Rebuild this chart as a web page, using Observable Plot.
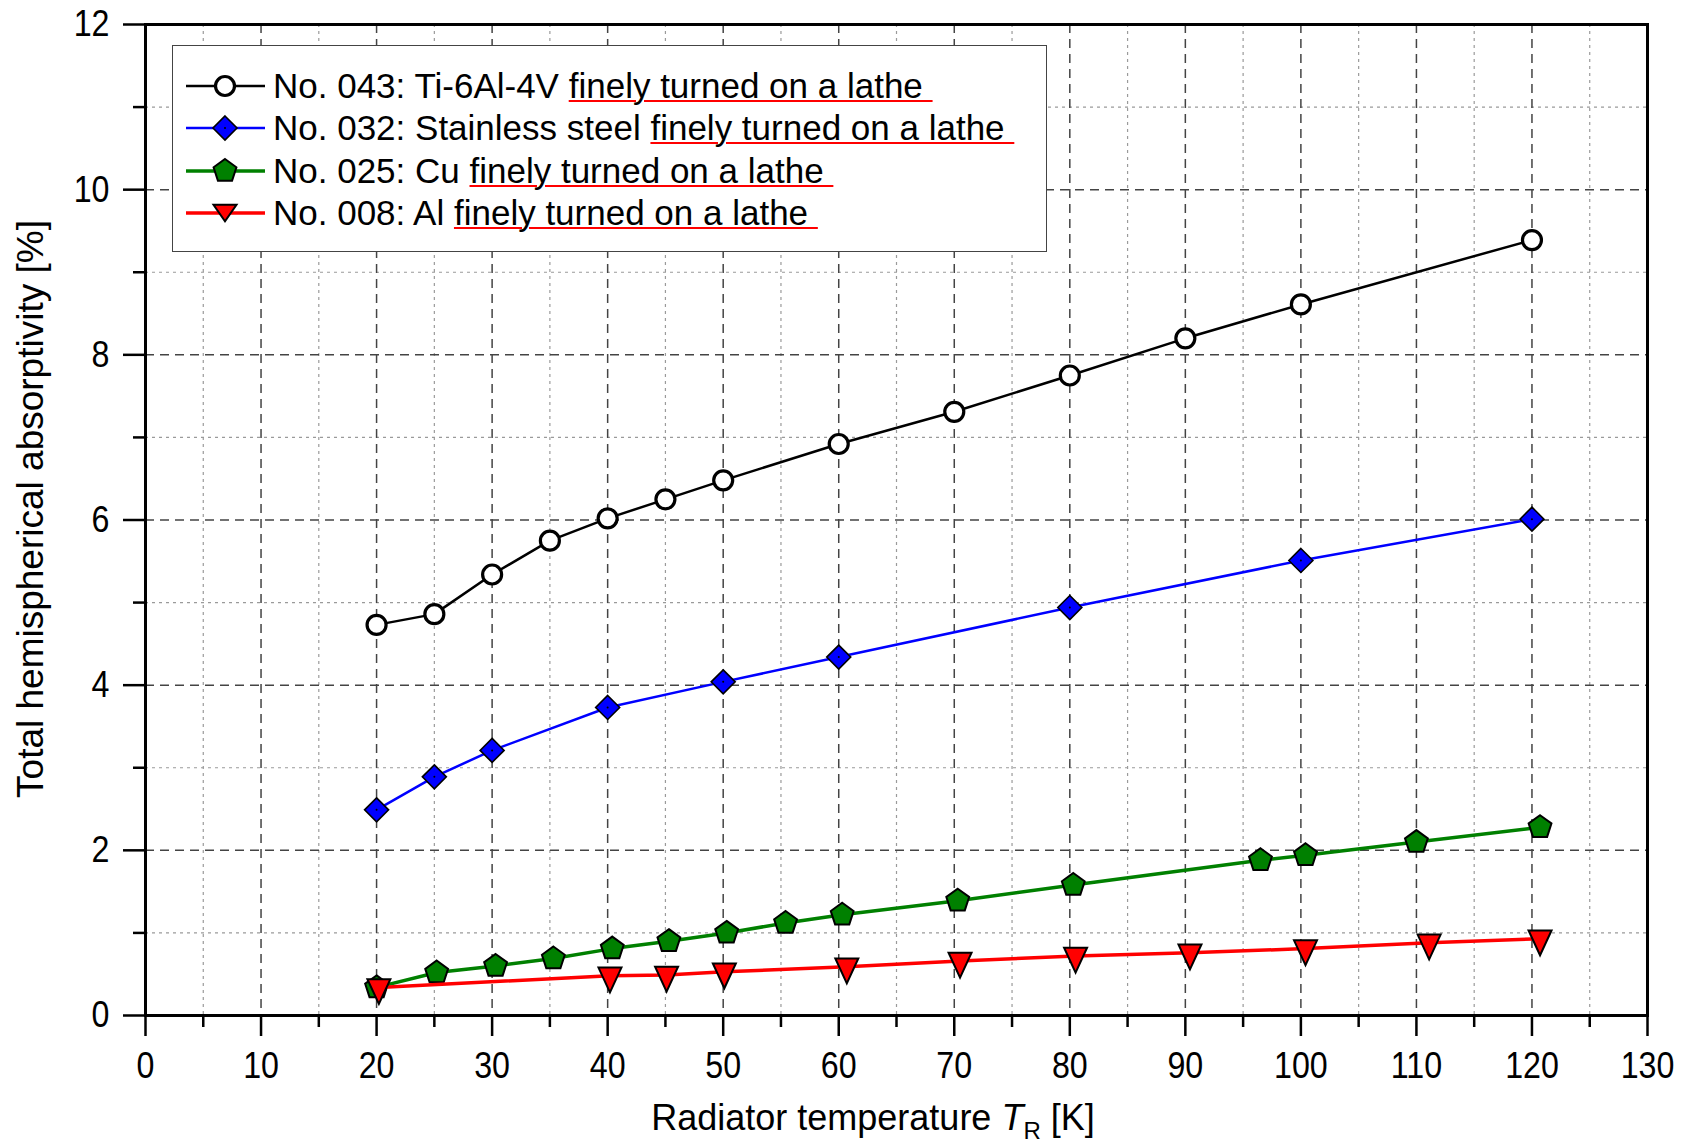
<!DOCTYPE html>
<html><head><meta charset="utf-8">
<script src="https://cdn.jsdelivr.net/npm/d3@7"></script>
<script src="https://cdn.jsdelivr.net/npm/@observablehq/plot@0.6"></script>
<style>
body{margin:0;background:#fff;}
#wrap{position:relative;width:1688px;height:1143px;font-family:"Liberation Sans",Arial,sans-serif;}
#legend{position:absolute;left:172px;top:45px;width:873px;height:205px;border:1.5px solid #444;background:#fff;}
.row{position:absolute;left:0;width:870px;height:42px;display:flex;align-items:center;font-size:35px;color:#000;white-space:nowrap;}
.row svg{flex:none;width:100px;height:42px;}
.row u{text-decoration-color:#ff0000;text-decoration-thickness:2px;text-underline-offset:2px;}
</style></head>
<body><div id="wrap"></div>
<script>
// ---- data ----
const tiT = [20,25,30,35,40,45,50,60,70,80,90,100,120];
const tiA = [4.73,4.86,5.34,5.75,6.02,6.25,6.48,6.92,7.31,7.75,8.20,8.61,9.39];
const ssT = [20,25,30,40,50,60,80,100,120];
const ssA = [2.49,2.89,3.21,3.73,4.04,4.34,4.94,5.51,6.01];
const cuT = [20,25.2,30.3,35.3,40.4,45.3,50.3,55.4,60.3,70.3,80.3,96.5,100.4,110,120.7];
const cuA = [0.34,0.52,0.60,0.69,0.81,0.90,1.00,1.12,1.22,1.39,1.58,1.88,1.94,2.10,2.28];
const alT = [20.2,40.2,45.1,50.1,60.7,70.5,80.5,90.4,100.4,111.1,120.7];
const alA = [0.34,0.48,0.49,0.53,0.59,0.66,0.72,0.76,0.81,0.88,0.93];
const seriesNames = ["No. 043: Ti-6Al-4V ","No. 032: Stainless steel ","No. 025: Cu ","No. 008: Al "];
const underlined = "finely turned on a lathe";
const majorX = [0,10,20,30,40,50,60,70,80,90,100,110,120,130];
const minorX = [5,15,25,35,45,55,65,75,85,95,105,115,125];
const majorY = [0,2,4,6,8,10,12];
const minorY = [1,3,5,7,9,11];

const toRows = (T, A) => T.map((t, i) => ({T: t, A: A[i]}));
const ti = toRows(tiT, tiA), ss = toRows(ssT, ssA), cu = toRows(cuT, cuA), al = toRows(alT, alA);

// custom symbols
const pentagon = {draw(ctx, size){ const R = Math.sqrt(size/Math.PI);
  for(let k=0;k<5;k++){ const a = -Math.PI/2 + k*2*Math.PI/5; const x=R*Math.cos(a), y=R*Math.sin(a); k?ctx.lineTo(x,y):ctx.moveTo(x,y);} ctx.closePath(); }};
const diamond = {draw(ctx, size){ const R = Math.sqrt(size/Math.PI);
  ctx.moveTo(0,-R); ctx.lineTo(R,0); ctx.lineTo(0,R); ctx.lineTo(-R,0); ctx.closePath(); }};
const triDown = {draw(ctx, size){ const r = Math.sqrt(size/Math.PI);
  ctx.moveTo(-r,-0.72*r); ctx.lineTo(r,-0.72*r); ctx.lineTo(0,1.44*r); ctx.closePath(); }};

const fmt = d => String(d);
const chart = Plot.plot({
  width:1688, height:1143, marginLeft:145, marginRight:41, marginTop:24, marginBottom:128,
  x:{domain:[0,130], label:null}, y:{domain:[0,12], label:null},
  style:{fontFamily:"'Liberation Sans', Arial, sans-serif", fontSize:"36px", color:"black", background:"white", overflow:"visible"},
  marks:[
    Plot.gridX(minorX, {stroke:"#9a9a9a", strokeOpacity:1, strokeDasharray:"3,4", strokeWidth:1.2}),
    Plot.gridY(minorY, {stroke:"#9a9a9a", strokeOpacity:1, strokeDasharray:"3,4", strokeWidth:1.2}),
    Plot.gridX(majorX, {stroke:"#444", strokeOpacity:1, strokeDasharray:"9,6", strokeWidth:1.5}),
    Plot.gridY(majorY, {stroke:"#444", strokeOpacity:1, strokeDasharray:"9,6", strokeWidth:1.5}),
    Plot.axisX(majorX, {tickSize:21, tickPadding:15, strokeWidth:2.5, fontSize:37, tickFormat:fmt, label:null}),
    Plot.axisX(minorX, {tickSize:12, strokeWidth:2.5, tickFormat:()=>"", label:null}),
    Plot.axisY(majorY, {tickSize:22, tickPadding:14, strokeWidth:2.5, fontSize:37, tickFormat:fmt, label:null}),
    Plot.axisY(minorY, {tickSize:12, strokeWidth:2.5, tickFormat:()=>"", label:null}),
    Plot.frame({stroke:"black", strokeWidth:3}),
    Plot.line(ti, {x:"T", y:"A", stroke:"black", strokeWidth:2.5}),
    Plot.dot(ti, {x:"T", y:"A", r:9.5, fill:"white", stroke:"black", strokeWidth:3.2}),
    Plot.line(ss, {x:"T", y:"A", stroke:"#0000ff", strokeWidth:2.5}),
    Plot.dot(ss, {x:"T", y:"A", r:12, symbol:diamond, fill:"#0000ff", stroke:"black", strokeWidth:1.6}),
    Plot.dot(ss, {x:"T", y:"A", r:1, fill:"black"}),
    Plot.line(cu, {x:"T", y:"A", stroke:"#008000", strokeWidth:3.5}),
    Plot.dot(cu, {x:"T", y:"A", r:12, symbol:pentagon, fill:"#008000", stroke:"black", strokeWidth:2}),
    Plot.line(al, {x:"T", y:"A", stroke:"#ff0000", strokeWidth:3.5}),
    Plot.dot(al, {x:"T", y:"A", r:11.5, symbol:triDown, fill:"#ff0000", stroke:"black", strokeWidth:2})
  ]
});

const svg = d3.select(chart);
// tick labels in the reference are slightly condensed
svg.selectAll("g[aria-label$='tick label'] text").each(function(){
  const el = d3.select(this);
  const t = el.attr("transform");
  if (t) el.attr("transform", t + " scale(0.87,1)");
  else {
    const x = +el.attr("x") || 0, y = +el.attr("y") || 0;
    el.attr("x", null).attr("y", null).attr("transform", `translate(${x},${y}) scale(0.87,1)`);
  }
});
svg.append("text").attr("transform","translate(43,509) rotate(-90)").attr("text-anchor","middle")
  .attr("font-size",37).attr("fill","black").text("Total hemispherical absorptivity [%]");
const xt = svg.append("text").attr("x",873).attr("y",1130).attr("text-anchor","middle").attr("font-size",36).attr("fill","black");
xt.append("tspan").text("Radiator temperature ");
xt.append("tspan").attr("font-style","italic").text("T");
xt.append("tspan").attr("font-size",24).attr("dy",9).text("R");
xt.append("tspan").attr("dy",-9).text(" [K]");

const wrap = document.getElementById("wrap");
wrap.appendChild(chart);

// legend
const leg = document.createElement("div"); leg.id = "legend"; wrap.appendChild(leg);
const legSym = [
  `<circle cx="52" cy="21" r="9.5" fill="white" stroke="black" stroke-width="3.2"/>`,
  `<path d="M52,9L64,21L52,33L40,21Z" fill="#0000ff" stroke="black" stroke-width="1.6"/><circle cx="52" cy="21" r="1" fill="black"/>`,
  `<path d="${(()=>{let s="";for(let k=0;k<5;k++){const a=-Math.PI/2+k*2*Math.PI/5;s+=(k?"L":"M")+(52+12*Math.cos(a)).toFixed(2)+","+(21+12*Math.sin(a)).toFixed(2);}return s+"Z";})()}" fill="#008000" stroke="black" stroke-width="2"/>`,
  `<path d="M40.5,12.7L63.5,12.7L52,29.3Z" fill="#ff0000" stroke="black" stroke-width="2"/>`
];
const legCol = ["black","#0000ff","#008000","#ff0000"];
const legW = [2.5,2.5,3.5,3.5];
const rowY = [40,82,125,167];
seriesNames.forEach((name, i) => {
  const row = document.createElement("div"); row.className = "row"; row.style.top = (rowY[i]-21) + "px";
  row.innerHTML = `<svg viewBox="0 0 100 42"><line x1="13" x2="92" y1="21" y2="21" stroke="${legCol[i]}" stroke-width="${legW[i]}"/>${legSym[i]}</svg><span>${name}<u>${underlined}&nbsp;</u></span>`;
  leg.appendChild(row);
});
</script></body></html>
